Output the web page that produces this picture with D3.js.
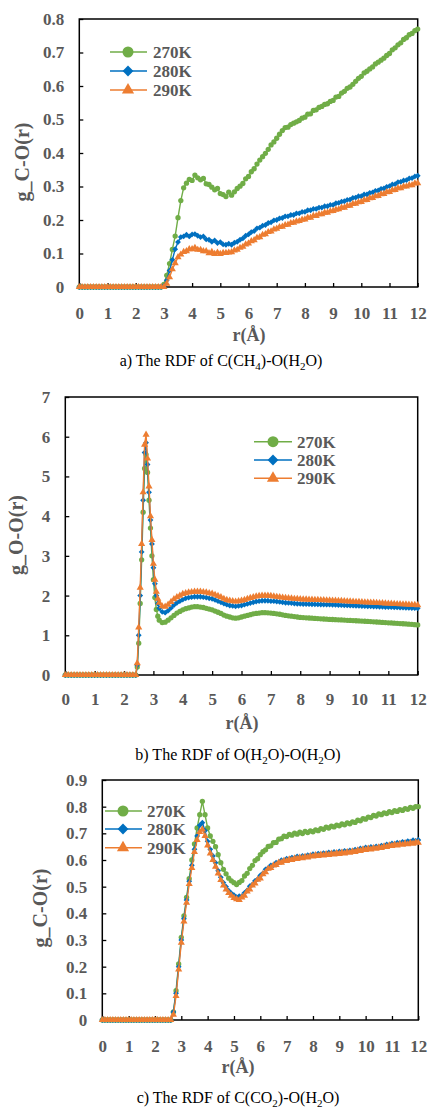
<!DOCTYPE html>
<html>
<head>
<meta charset="utf-8">
<script src="https://cdn.jsdelivr.net/npm/d3@7"></script>
<style>
  body { margin: 0; background: #fff; }
  svg text { font-family: "Liberation Serif", "Times New Roman", serif; }
  .tick text { font-weight: bold; font-size: 17px; fill: #595959; }
  .axis-title { font-weight: bold; fill: #595959; }
  .legend-text { font-weight: bold; font-size: 17px; fill: #595959; }
  .caption { font-size: 16px; fill: #000; }
</style>
</head>
<body>
<div id="chart"></div>
<script>
// ---- data -------------------------------------------------------------
const seriesNames = ['270K', '280K', '290K'];
const xTickValues = [0, 1, 2, 3, 4, 5, 6, 7, 8, 9, 10, 11, 12];

// r grid (Å) used by panels a and c
const rGrid = [
  0, 0.1, 0.2, 0.3, 0.4, 0.5, 0.6, 0.7, 0.8, 0.9,
  1, 1.1, 1.2, 1.3, 1.4, 1.5, 1.6, 1.7, 1.8, 1.9,
  2, 2.1, 2.2, 2.3, 2.4, 2.5, 2.6, 2.7, 2.8, 2.9,
  3, 3.1, 3.2, 3.3, 3.4, 3.5, 3.6, 3.7, 3.8, 3.9,
  4, 4.1, 4.2, 4.3, 4.4, 4.5, 4.6, 4.7, 4.8, 4.9,
  5, 5.1, 5.2, 5.3, 5.4, 5.5, 5.6, 5.7, 5.8, 5.9,
  6, 6.1, 6.2, 6.3, 6.4, 6.5, 6.6, 6.7, 6.8, 6.9,
  7, 7.1, 7.2, 7.3, 7.4, 7.5, 7.6, 7.7, 7.8, 7.9,
  8, 8.1, 8.2, 8.3, 8.4, 8.5, 8.6, 8.7, 8.8, 8.9,
  9, 9.1, 9.2, 9.3, 9.4, 9.5, 9.6, 9.7, 9.8, 9.9,
  10, 10.1, 10.2, 10.3, 10.4, 10.5, 10.6, 10.7, 10.8, 10.9,
  11, 11.1, 11.2, 11.3, 11.4, 11.5, 11.6, 11.7, 11.8, 11.9,
  12
];

// a) C(CH4)-O(H2O)
const gA270 = [
  0,0,0,0,0,0,0,0,0,0,
  0,0,0,0,0,0,0,0,0,0,
  0,0,0,0,0,0,0,0,0,0,
  0.008,0.035,0.07,0.112,0.152,0.207,0.258,0.296,0.31,0.321,
  0.318,0.334,0.326,0.32,0.324,0.308,0.306,0.298,0.29,0.294,
  0.279,0.276,0.27,0.283,0.274,0.284,0.294,0.301,0.309,0.323,
  0.33,0.344,0.353,0.367,0.379,0.389,0.399,0.411,0.424,0.433,
  0.444,0.456,0.467,0.476,0.477,0.485,0.489,0.493,0.497,0.504,
  0.507,0.516,0.517,0.527,0.529,0.536,0.539,0.545,0.547,0.554,
  0.557,0.567,0.569,0.579,0.584,0.593,0.597,0.605,0.614,0.623,
  0.629,0.639,0.644,0.651,0.657,0.666,0.671,0.677,0.683,0.691,
  0.697,0.708,0.714,0.723,0.729,0.739,0.744,0.753,0.757,0.765,
  0.77
];
const gA280 = [
  0,0,0,0,0,0,0,0,0,0,
  0,0,0,0,0,0,0,0,0,0,
  0,0,0,0,0,0,0,0,0,0,
  0.003,0.02,0.049,0.081,0.113,0.134,0.149,0.151,0.156,0.151,
  0.157,0.158,0.153,0.149,0.151,0.142,0.141,0.135,0.139,0.131,
  0.134,0.127,0.126,0.129,0.126,0.132,0.135,0.141,0.145,0.153,
  0.157,0.164,0.167,0.175,0.177,0.183,0.185,0.191,0.193,0.199,
  0.2,0.205,0.206,0.211,0.211,0.215,0.215,0.22,0.22,0.224,
  0.224,0.229,0.229,0.233,0.233,0.237,0.237,0.241,0.241,0.245,
  0.245,0.25,0.251,0.255,0.256,0.26,0.261,0.266,0.267,0.271,
  0.271,0.276,0.276,0.281,0.282,0.287,0.288,0.293,0.294,0.299,
  0.301,0.306,0.307,0.313,0.314,0.318,0.319,0.324,0.325,0.33,
  0.332
];
const gA290 = [
  0,0,0,0,0,0,0,0,0,0,
  0,0,0,0,0,0,0,0,0,0,
  0,0,0,0,0,0,0,0,0,0,
  0,0.01,0.029,0.053,0.071,0.089,0.097,0.105,0.107,0.113,
  0.113,0.117,0.111,0.111,0.107,0.107,0.101,0.105,0.099,0.103,
  0.099,0.102,0.102,0.103,0.104,0.109,0.111,0.117,0.12,0.127,
  0.13,0.137,0.14,0.147,0.149,0.156,0.158,0.164,0.166,0.172,
  0.174,0.179,0.18,0.185,0.186,0.191,0.192,0.196,0.197,0.201,
  0.202,0.207,0.207,0.212,0.212,0.217,0.217,0.222,0.222,0.226,
  0.227,0.231,0.232,0.237,0.237,0.242,0.243,0.248,0.249,0.253,
  0.254,0.259,0.26,0.265,0.266,0.271,0.272,0.277,0.278,0.283,
  0.284,0.289,0.29,0.295,0.295,0.3,0.3,0.304,0.304,0.309,
  0.31
];

// b) O(H2O)-O(H2O): finer sampling across the first peak
const rGridB = [
  0, 0.1, 0.2, 0.3, 0.4, 0.5, 0.6, 0.7, 0.8, 0.9,
  1, 1.1, 1.2, 1.3, 1.4, 1.5, 1.6, 1.7, 1.8, 1.9,
  2, 2.1, 2.2, 2.3, 2.4,
  2.45, 2.5, 2.55, 2.6, 2.65, 2.7, 2.75, 2.8, 2.85, 2.9, 2.95, 3, 3.05, 3.1, 3.15,
  3.2, 3.3, 3.4, 3.5, 3.6, 3.7, 3.8, 3.9,
  4, 4.1, 4.2, 4.3, 4.4, 4.5, 4.6, 4.7, 4.8, 4.9,
  5, 5.1, 5.2, 5.3, 5.4, 5.5, 5.6, 5.7, 5.8, 5.9,
  6, 6.1, 6.2, 6.3, 6.4, 6.5, 6.6, 6.7, 6.8, 6.9,
  7, 7.1, 7.2, 7.3, 7.4, 7.5, 7.6, 7.7, 7.8, 7.9,
  8, 8.1, 8.2, 8.3, 8.4, 8.5, 8.6, 8.7, 8.8, 8.9,
  9, 9.1, 9.2, 9.3, 9.4, 9.5, 9.6, 9.7, 9.8, 9.9,
  10, 10.1, 10.2, 10.3, 10.4, 10.5, 10.6, 10.7, 10.8, 10.9,
  11, 11.1, 11.2, 11.3, 11.4, 11.5, 11.6, 11.7, 11.8, 11.9,
  12
];
const gB270 = [
  0,0,0,0,0,0,0,0,0,0,
  0,0,0,0,0,0,0,0,0,0,
  0,0,0,0,0,
  0.2,0.8,1.8,2.9,4.1,5.2,5.55,5.1,4.4,3.7,3.0,2.4,1.95,1.65,1.48,
  1.38,1.32,1.33,1.38,1.44,1.5,1.56,1.6,
  1.64,1.67,1.69,1.71,1.72,1.72,1.71,1.7,1.68,1.66,
  1.64,1.61,1.58,1.55,1.51,1.48,1.46,1.44,1.43,1.44,
  1.46,1.48,1.5,1.52,1.54,1.55,1.56,1.57,1.57,1.565,
  1.56,1.55,1.54,1.53,1.515,1.5,1.49,1.48,1.47,1.46,
  1.45,1.445,1.44,1.435,1.43,1.425,1.42,1.415,1.41,1.405,
  1.4,1.397,1.393,1.39,1.386,1.382,1.378,1.374,1.37,1.366,
  1.362,1.358,1.353,1.348,1.344,1.34,1.335,1.33,1.325,1.32,
  1.315,1.31,1.305,1.3,1.295,1.29,1.285,1.28,1.275,1.268,
  1.262
];
const gB280 = [
  0,0,0,0,0,0,0,0,0,0,
  0,0,0,0,0,0,0,0,0,0,
  0,0,0,0,0,
  0.25,1.0,2.0,3.1,4.4,5.6,5.85,5.3,4.6,3.9,3.3,2.7,2.3,2.0,1.8,
  1.68,1.59,1.57,1.62,1.69,1.76,1.82,1.86,
  1.9,1.93,1.95,1.96,1.97,1.97,1.97,1.96,1.95,1.93,
  1.92,1.89,1.86,1.83,1.8,1.77,1.75,1.74,1.73,1.74,
  1.75,1.77,1.79,1.81,1.83,1.85,1.86,1.87,1.87,1.87,
  1.86,1.86,1.85,1.84,1.83,1.82,1.815,1.81,1.8,1.795,
  1.79,1.788,1.786,1.784,1.782,1.78,1.778,1.776,1.774,1.772,
  1.77,1.767,1.764,1.761,1.758,1.755,1.752,1.749,1.746,1.743,
  1.74,1.737,1.734,1.731,1.728,1.725,1.722,1.719,1.716,1.713,
  1.71,1.707,1.704,1.701,1.698,1.695,1.692,1.689,1.686,1.683,
  1.68
];
const gB290 = [
  0,0,0,0,0,0,0,0,0,0,
  0,0,0,0,0,0,0,0,0,0,
  0,0,0,0,0,
  0.3,1.2,2.2,3.3,4.6,5.8,6.05,5.45,4.75,4.0,3.4,2.8,2.4,2.1,1.92,
  1.82,1.73,1.72,1.77,1.84,1.91,1.96,2.0,
  2.04,2.06,2.08,2.09,2.1,2.1,2.1,2.09,2.08,2.06,
  2.05,2.02,1.99,1.96,1.92,1.89,1.87,1.86,1.85,1.86,
  1.87,1.89,1.92,1.94,1.96,1.98,1.99,2.0,2.0,2.0,
  1.99,1.98,1.97,1.96,1.95,1.94,1.935,1.93,1.92,1.915,
  1.91,1.905,1.902,1.899,1.896,1.893,1.89,1.887,1.884,1.882,
  1.88,1.876,1.872,1.868,1.864,1.86,1.856,1.852,1.848,1.844,
  1.84,1.836,1.832,1.828,1.824,1.82,1.816,1.812,1.808,1.804,
  1.8,1.796,1.792,1.788,1.784,1.78,1.776,1.772,1.768,1.764,
  1.76
];

// c) C(CO2)-O(H2O)
const gC270 = [
  0,0,0,0,0,0,0,0,0,0,
  0,0,0,0,0,0,0,0,0,0,
  0,0,0,0,0,0,0,0.03,0.11,0.21,
  0.31,0.39,0.46,0.53,0.6,0.66,0.72,0.77,0.82,0.77,
  0.72,0.69,0.67,0.65,0.62,0.59,0.565,0.548,0.532,0.522,
  0.515,0.508,0.516,0.523,0.54,0.55,0.568,0.58,0.598,0.605,
  0.62,0.631,0.638,0.651,0.653,0.665,0.666,0.678,0.68,0.689,
  0.688,0.696,0.693,0.701,0.697,0.704,0.699,0.707,0.703,0.709,
  0.706,0.713,0.71,0.718,0.715,0.723,0.72,0.727,0.724,0.731,
  0.728,0.735,0.732,0.739,0.736,0.743,0.741,0.749,0.747,0.755,
  0.753,0.761,0.759,0.767,0.765,0.773,0.77,0.777,0.774,0.781,
  0.778,0.785,0.782,0.789,0.786,0.793,0.79,0.797,0.794,0.8,
  0.8
];
const gC280 = [
  0,0,0,0,0,0,0,0,0,0,
  0,0,0,0,0,0,0,0,0,0,
  0,0,0,0,0,0,0,0.03,0.1,0.2,
  0.3,0.38,0.45,0.52,0.58,0.64,0.69,0.73,0.74,0.71,
  0.67,0.64,0.615,0.59,0.56,0.535,0.515,0.5,0.485,0.475,
  0.468,0.461,0.464,0.464,0.477,0.486,0.502,0.508,0.522,0.528,
  0.542,0.55,0.565,0.57,0.58,0.581,0.59,0.591,0.599,0.598,
  0.605,0.603,0.609,0.607,0.613,0.61,0.615,0.613,0.618,0.616,
  0.622,0.619,0.624,0.621,0.626,0.623,0.628,0.625,0.63,0.627,
  0.632,0.629,0.634,0.631,0.636,0.633,0.639,0.637,0.643,0.641,
  0.647,0.644,0.649,0.646,0.651,0.648,0.654,0.652,0.658,0.656,
  0.662,0.66,0.665,0.663,0.668,0.666,0.671,0.669,0.674,0.672,
  0.675
];
const gC290 = [
  0,0,0,0,0,0,0,0,0,0,
  0,0,0,0,0,0,0,0,0,0,
  0,0,0,0,0,0,0,0.02,0.09,0.19,
  0.29,0.37,0.44,0.51,0.57,0.63,0.675,0.705,0.715,0.69,
  0.655,0.625,0.6,0.575,0.55,0.525,0.505,0.49,0.476,0.466,
  0.458,0.453,0.45,0.46,0.466,0.482,0.49,0.505,0.512,0.526,
  0.531,0.547,0.554,0.567,0.57,0.58,0.581,0.59,0.59,0.597,
  0.596,0.602,0.6,0.606,0.604,0.609,0.607,0.612,0.61,0.615,
  0.613,0.618,0.615,0.62,0.617,0.622,0.619,0.624,0.621,0.626,
  0.623,0.628,0.625,0.63,0.627,0.632,0.63,0.636,0.634,0.64,
  0.638,0.643,0.64,0.645,0.642,0.647,0.645,0.651,0.649,0.655,
  0.653,0.658,0.655,0.66,0.657,0.662,0.659,0.664,0.661,0.666,
  0.665
];

// ---- look ---------------------------------------------------------------
const seriesColors = ['#70AD47', '#0070C0', '#ED7D31'];
const seriesSymbols = [d3.symbolCircle, d3.symbolSquare, d3.symbolTriangle];
const markerSize = [22, 17, 22];      // data markers (area)
const legendMarkerSize = [95, 58, 64]; // legend markers (area)
const symbolRotate = [0, 45, 0];       // square turned into a diamond

const fmtDec = d => d === 0 ? '0' : d3.format('.1f')(d);

const panels = [
  {
    left: 79.3, right: 417.7, top: 19, bottom: 287,
    yMax: 0.8, yTicks: [0, 0.1, 0.2, 0.3, 0.4, 0.5, 0.6, 0.7, 0.8], yFmt: fmtDec,
    r: rGrid, series: [gA270, gA280, gA290],
    yTitle: 'g_C-O(r)', yTitleX: 29, yTitleY: 162,
    xTitleX: 249, xTitleY: 341, xPad: 20,
    legend: { x0: 110, x1: 147, mx: 128, tx: 153, rows: [52, 71, 90] },
    caption: [['a) The RDF of C(CH', 0], ['4', 1], [')-O(H', 0], ['2', 1], ['O)', 0]],
    capX: 221, capY: 366
  },
  {
    left: 65.3, right: 417.7, top: 397, bottom: 675,
    yMax: 7, yTicks: [0, 1, 2, 3, 4, 5, 6, 7], yFmt: d3.format('d'),
    r: rGridB, series: [gB270, gB280, gB290],
    yTitle: 'g_O-O(r)', yTitleX: 23, yTitleY: 535,
    xTitleX: 242, xTitleY: 729, xPad: 18,
    legend: { x0: 254, x1: 292, mx: 273, tx: 297, rows: [441.7, 460, 478.3] },
    caption: [['b) The RDF of O(H', 0], ['2', 1], ['O)-O(H', 0], ['2', 1], ['O)', 0]],
    capX: 238, capY: 760
  },
  {
    left: 102.3, right: 418.3, top: 780, bottom: 1020,
    yMax: 0.9, yTicks: [0, 0.1, 0.2, 0.3, 0.4, 0.5, 0.6, 0.7, 0.8, 0.9], yFmt: fmtDec,
    r: rGrid, series: [gC270, gC280, gC290],
    yTitle: 'g_C-O(r)', yTitleX: 47, yTitleY: 908,
    xTitleX: 238, xTitleY: 1073, xPad: 20,
    legend: { x0: 105, x1: 142, mx: 123, tx: 147, rows: [811, 829, 847.7] },
    caption: [['c) The RDF of C(CO', 0], ['2', 1], [')-O(H', 0], ['2', 1], ['O)', 0]],
    capX: 238, capY: 1103
  }
];

// ---- draw ---------------------------------------------------------------
const svg = d3.select('#chart').append('svg')
  .attr('width', 429)
  .attr('height', 1108);

panels.forEach(p => {
  const x = d3.scaleLinear().domain([0, 12]).range([p.left, p.right]);
  const y = d3.scaleLinear().domain([0, p.yMax]).range([p.bottom, p.top]);

  // y axis, ticks pointing inside
  const yAxis = svg.append('g')
    .attr('transform', `translate(${p.left},0)`)
    .call(d3.axisLeft(y).tickValues(p.yTicks).tickFormat(p.yFmt)
      .tickSizeInner(-4).tickSizeOuter(0).tickPadding(15));
  yAxis.select('.domain').remove();
  yAxis.selectAll('.tick line').attr('stroke', '#000').attr('stroke-width', 1.3);

  // x axis, ticks pointing inside
  const xAxis = svg.append('g')
    .attr('transform', `translate(0,${p.bottom})`)
    .call(d3.axisBottom(x).tickValues(xTickValues).tickFormat(d3.format('d'))
      .tickSizeInner(-4).tickSizeOuter(0).tickPadding(p.xPad));
  xAxis.select('.domain').remove();
  xAxis.selectAll('.tick line').attr('stroke', '#000').attr('stroke-width', 1.3);

  // plot frame
  svg.append('rect')
    .attr('x', p.left).attr('y', p.top)
    .attr('width', p.right - p.left).attr('height', p.bottom - p.top)
    .attr('fill', 'none').attr('stroke', '#000').attr('stroke-width', 1.5);

  // axis titles
  svg.append('text')
    .attr('class', 'axis-title')
    .attr('text-anchor', 'middle')
    .attr('font-size', 20)
    .attr('transform', `translate(${p.yTitleX},${p.yTitleY}) rotate(-90)`)
    .text(p.yTitle);

  svg.append('text')
    .attr('class', 'axis-title')
    .attr('text-anchor', 'middle')
    .attr('font-size', 18)
    .attr('x', p.xTitleX).attr('y', p.xTitleY)
    .text('r(Å)');

  // series: line + markers, 270K first so 290K ends on top
  p.series.forEach((vals, si) => {
    const n = Math.min(vals.length, p.r.length);
    const pts = d3.range(n).map(i => [p.r[i], vals[i]]);
    const line = d3.line().x(d => x(d[0])).y(d => y(d[1]));
    const g = svg.append('g');
    g.append('path')
      .attr('d', line(pts))
      .attr('fill', 'none')
      .attr('stroke', seriesColors[si])
      .attr('stroke-width', 1.4);
    const sym = d3.symbol().type(seriesSymbols[si]).size(markerSize[si]);
    g.selectAll('path.mk').data(pts).join('path')
      .attr('class', 'mk')
      .attr('d', sym)
      .attr('fill', seriesColors[si])
      .attr('transform', d => `translate(${x(d[0])},${y(d[1])}) rotate(${symbolRotate[si]})`);
  });

  // legend
  const lg = svg.append('g');
  seriesNames.forEach((name, si) => {
    const cy = p.legend.rows[si];
    lg.append('line')
      .attr('x1', p.legend.x0).attr('x2', p.legend.x1)
      .attr('y1', cy).attr('y2', cy)
      .attr('stroke', seriesColors[si]).attr('stroke-width', 1.6);
    lg.append('path')
      .attr('d', d3.symbol().type(seriesSymbols[si]).size(legendMarkerSize[si]))
      .attr('fill', seriesColors[si])
      .attr('transform', `translate(${p.legend.mx},${cy}) rotate(${symbolRotate[si]})`);
    lg.append('text')
      .attr('class', 'legend-text')
      .attr('x', p.legend.tx).attr('y', cy + 5.8)
      .text(name);
  });

  // caption with subscripts
  const cap = svg.append('text')
    .attr('class', 'caption')
    .attr('text-anchor', 'middle')
    .attr('x', p.capX).attr('y', p.capY);
  let shifted = false;
  p.caption.forEach(([txt, sub]) => {
    const t = cap.append('tspan').text(txt);
    if (sub) { t.attr('dy', 4).attr('font-size', 11); shifted = true; }
    else if (shifted) { t.attr('dy', -4); shifted = false; }
  });
});
</script>
</body>
</html>
